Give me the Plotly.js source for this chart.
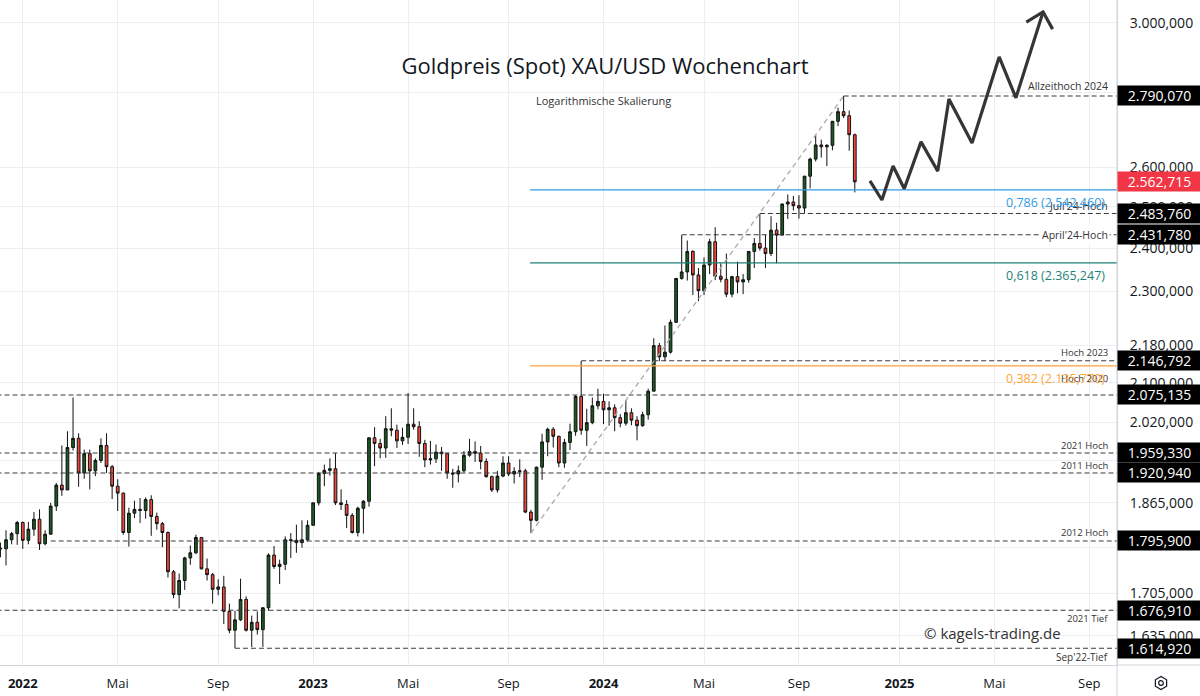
<!DOCTYPE html>
<html><head><meta charset="utf-8">
<script src="https://cdn.plot.ly/plotly-3.0.1.min.js"></script>
<style>html,body{margin:0;padding:0;background:#fff}#chart{width:1200px;height:696px}</style>
</head><body><div id="chart"></div>
<script>
// ---------- DATA ----------
const firstWeek = '2021-11-29';
const opens  = [1784,1783,1782,1798,1809,1829,1797,1817,1835,1791,1808,1859,1898,1889,1970,1988,1921,1958,1925,1945,1974,1933,1896,1883,1811,1846,1853,1851,1871,1840,1827,1811,1742,1703,1727,1766,1775,1802,1747,1737,1712,1716,1675,1644,1661,1695,1644,1657,1645,1681,1771,1751,1755,1798,1797,1793,1798,1824,1865,1920,1926,1929,1865,1862,1842,1811,1855,1868,1989,1978,1969,2007,2004,1983,1990,2016,2011,1978,1946,1948,1961,1958,1921,1919,1925,1955,1962,1959,1943,1914,1889,1915,1940,1919,1924,1925,1848,1833,1932,1981,2006,1992,1940,1980,2001,2072,2004,2019,2053,2062,2045,2049,2029,2018,2039,2024,2013,2035,2083,2179,2155,2165,2230,2329,2344,2392,2337,2301,2360,2415,2334,2327,2293,2333,2321,2326,2392,2411,2400,2387,2443,2431,2507,2512,2503,2497,2577,2621,2658,2653,2657,2721,2747,2736,2685];
const highs  = [1793,1793,1815,1812,1832,1831,1830,1848,1853,1815,1865,1902,1974,2002,2070,1998,1966,1966,1949,1988,1998,1936,1909,1884,1856,1869,1874,1875,1879,1847,1830,1813,1745,1739,1768,1788,1807,1803,1765,1740,1729,1735,1688,1676,1730,1700,1668,1675,1682,1774,1787,1763,1804,1810,1825,1833,1833,1865,1923,1937,1949,1959,1890,1870,1846,1858,1870,1989,2010,1987,2032,2048,2015,2009,2079,2048,2022,1985,1983,1976,1971,1959,1929,1935,1963,1987,1982,1973,1949,1916,1925,1953,1953,1932,1947,1929,1852,1933,1997,2009,2010,1993,1987,2017,2075,2146,2047,2070,2088,2078,2062,2056,2036,2065,2048,2032,2041,2088,2195,2185,2223,2236,2330,2431,2418,2395,2353,2378,2422,2450,2364,2387,2335,2368,2339,2392,2424,2483,2432,2477,2461,2508,2531,2527,2529,2578,2625,2685,2672,2660,2721,2758,2790.07,2750,2688];
const lows   = [1762,1767,1753,1790,1789,1782,1790,1805,1780,1788,1807,1850,1878,1889,1964,1895,1910,1890,1915,1940,1921,1872,1850,1807,1786,1837,1828,1836,1805,1816,1785,1732,1697,1680,1711,1754,1773,1746,1727,1688,1702,1654,1639,1615,1659,1642,1617,1637,1617,1676,1747,1721,1745,1766,1775,1784,1795,1824,1860,1896,1916,1861,1852,1819,1809,1804,1809,1858,1934,1949,1950,1992,1969,1975,1977,2005,1952,1932,1937,1940,1925,1910,1893,1903,1922,1952,1942,1928,1912,1885,1884,1913,1915,1901,1913,1846,1810,1831,1908,1953,1970,1932,1931,1965,1993,1995,1973,2016,2046,2016,2013,2002,2010,2013,2014,1984,2011,2025,2083,2146,2146,2162,2228,2326,2324,2291,2277,2291,2339,2325,2320,2286,2286,2295,2293,2319,2353,2394,2353,2381,2364,2431,2470,2491,2471,2485,2546,2615,2625,2603,2644,2708,2730,2643,2536];
const closes = [1783,1782,1798,1809,1829,1797,1817,1835,1791,1808,1859,1898,1889,1970,1988,1921,1958,1925,1945,1974,1933,1896,1883,1811,1846,1853,1851,1871,1840,1827,1811,1742,1703,1727,1766,1775,1802,1747,1737,1712,1716,1675,1644,1661,1695,1644,1657,1645,1681,1771,1751,1755,1798,1797,1793,1798,1824,1865,1920,1926,1929,1865,1862,1842,1811,1855,1868,1989,1978,1969,2007,2004,1983,1990,2016,2011,1978,1946,1948,1961,1958,1921,1919,1925,1955,1962,1959,1943,1914,1889,1915,1940,1919,1924,1925,1848,1833,1932,1981,2006,1992,1940,1980,2001,2072,2004,2019,2053,2062,2045,2049,2029,2018,2039,2024,2013,2035,2083,2179,2155,2165,2230,2329,2344,2392,2337,2301,2360,2415,2334,2327,2293,2333,2321,2326,2392,2411,2400,2387,2443,2431,2507,2512,2503,2497,2577,2621,2658,2653,2657,2721,2747,2736,2685,2562.715];

const currentPrice = 2562.715;

const levelValues = [2790.070, 2483.760, 2431.780, 2146.792, 2075.135, 1959.330, 1920.940, 1795.900, 1676.910, 1614.920];
const levelStarts = ['2024-10-28','2024-07-15','2024-04-08','2023-12-04','2021-11-01','2021-11-01','2021-11-01','2022-02-07','2021-11-01','2022-09-26'];
const levelLabels = ['Allzeithoch 2024', "Juli'24-Hoch", "April'24-Hoch", 'Hoch 2023', 'Hoch 2020', '2021 Hoch', '2011 Hoch', '2012 Hoch', '2021 Tief', "Sep'22-Tief"];

const fibRatios = [0.786, 0.618, 0.382];
const fibValues = [2542.460, 2365.247, 2135.770];
const fibStart = '2023-10-01';

const trendDates  = ['2023-10-02', '2024-10-28'];
const trendPrices = [1810, 2790.07];

const pathDates  = ['2024-11-30','2024-12-15','2024-12-29','2025-01-12','2025-02-02','2025-02-23','2025-03-09','2025-04-07','2025-05-11','2025-06-01','2025-07-05'];
const pathPrices = [2565, 2517, 2603, 2545, 2666, 2590, 2782, 2663, 2900, 2785, 3032];
const headDates  = ['2025-06-14','2025-07-05','2025-07-17'];
const headPrices = [3002, 3032, 2981];

// price-scale ticks; the ones fully hidden behind the level boxes carry no label
const yTicks      = [1635,1705,1785,1865,1945,2020,2100,2180,2300,2400,2500,2600,2800,3000];
const yTickHidden = [1785,1945,2800];
const xTickDates  = ['2022-01-03','2022-05-02','2022-09-05','2023-01-02','2023-05-01','2023-09-04','2024-01-01','2024-05-06','2024-09-02','2025-01-06','2025-05-05','2025-09-01'];
const xTickLabels = ['2022','Mai','Sep','2023','Mai','Sep','2024','Mai','Sep','2025','Mai','Sep'];

// ---------- HELPERS ----------
function weekDates(start, n){
  const out=[]; const d0=new Date(start+'T00:00:00Z');
  for(let i=0;i<n;i++){ const d=new Date(d0.getTime()+i*7*86400000); out.push(d.toISOString().slice(0,10)); }
  return out;
}
function fmt(v, dec){
  dec = dec===undefined?3:dec;
  const parts=v.toFixed(dec).split('.');
  const ip=parts[0].replace(/\B(?=(\d{3})+(?!\d))/g,'.');
  return parts.length>1? ip+','+parts[1] : ip;
}
const FONT='Open Sans';
const PLOT_W=1117, PLOT_B=665;
const px = x => x/PLOT_W;
const py = y => (PLOT_B-y)/PLOT_B;

const dates = weekDates(firstWeek, opens.length);
const farRight = '2025-12-31';

// ---------- TRACES ----------
const traces=[];
const fibColors=['#2f9be8','#1e7f76','#ffa53a'];
fibValues.forEach((v,i)=>{
  traces.push({type:'scatter',mode:'lines',x:[fibStart,farRight],y:[v,v],line:{color:fibColors[i],width:1.3},hoverinfo:'skip'});
});
levelValues.forEach((v,i)=>{
  traces.push({type:'scatter',mode:'lines',x:[levelStarts[i],farRight],y:[v,v],line:{color:'#3a3a3a',width:1.1,dash:'5px,3px'},hoverinfo:'skip'});
});
traces.push({type:'scatter',mode:'lines',x:trendDates,y:trendPrices,line:{color:'#a8a8a8',width:1.3,dash:'5px,4px'},hoverinfo:'skip'});
traces.push({type:'candlestick',x:dates,open:opens,high:highs,low:lows,close:closes,whiskerwidth:0,
  increasing:{line:{color:'#111',width:1},fillcolor:'#1c5a24'},
  decreasing:{line:{color:'#111',width:1},fillcolor:'#f4473a'},hoverinfo:'skip'});
traces.push({type:'scatter',mode:'lines',x:pathDates,y:pathPrices,line:{color:'#353535',width:3.2},hoverinfo:'skip'});
traces.push({type:'scatter',mode:'lines',x:headDates,y:headPrices,line:{color:'#353535',width:3.2},hoverinfo:'skip'});

// ---------- ANNOTATIONS ----------
const ann=[];
ann.push({xref:'paper',yref:'paper',x:px(603),y:py(101),text:'Logarithmische Skalierung',showarrow:false,font:{family:FONT,size:11,color:'#333'},xanchor:'center',yanchor:'middle'});
ann.push({xref:'paper',yref:'paper',x:px(992),y:py(633),text:'© kagels-trading.de',showarrow:false,font:{family:FONT,size:15,color:'#333'},xanchor:'center',yanchor:'middle'});

const lvlShift=[10,7,0,8,16,7,7,8,-8,-9];
const lvlSize=[10.5,10.5,10.5,9.5,9.5,9.5,9.5,9.5,9.5,10];
levelValues.forEach((v,i)=>{
  const a={xref:'paper',yref:'y',x:px(1110),y:Math.log10(v),yshift:lvlShift[i],text:levelLabels[i],showarrow:false,
    font:{family:FONT,size:lvlSize[i],color:'#333'},xanchor:'right',yanchor:'middle'};
  if(lvlShift[i]===0){a.bgcolor='#fff';a.borderpad=1;}
  ann.push(a);
});
fibValues.forEach((v,i)=>{
  ann.push({xref:'paper',yref:'y',x:px(1107),y:Math.log10(v),yshift:-13,text:fmt(fibRatios[i],3)+' ('+fmt(v)+')',showarrow:false,
    font:{family:FONT,size:12.5,color:fibColors[i]},xanchor:'right',yanchor:'middle'});
});
function boxLabel(v,bg){
  return {xref:'paper',x:1,xanchor:'left',yref:'y',y:Math.log10(v),yanchor:'middle',text:fmt(v),showarrow:false,
    bgcolor:bg,font:{family:FONT,color:'#fff',size:14},width:79,height:15,borderpad:2,align:'center'};
}
levelValues.forEach(v=>ann.push(boxLabel(v,'#000')));
ann.push(boxLabel(currentPrice,'#f23645'));

// ---------- SHAPES ----------
const gx=1161, gy=683, r=6.5;
let hex='';
for(let k=0;k<6;k++){
  const ang=Math.PI/2 + k*Math.PI/3;
  const X=px(gx + r*Math.cos(ang)), Y=py(gy - r*Math.sin(ang));
  hex += (k===0?'M ':' L ')+X+','+Y;
}
hex+=' Z';
const shapes=[
  {type:'line',xref:'paper',yref:'paper',x0:1,x1:px(1200),y0:0,y1:0,line:{color:'#d1d4dc',width:1}},
  {type:'line',xref:'paper',yref:'paper',x0:1,x1:1,y0:1,y1:py(696),line:{color:'#d1d4dc',width:1}},
  {type:'path',xref:'paper',yref:'paper',path:hex,line:{color:'#131722',width:1.2}},
  {type:'circle',xref:'paper',yref:'paper',x0:px(gx-2.3),x1:px(gx+2.3),y0:py(gy+2.3),y1:py(gy-2.3),line:{color:'#131722',width:1.2}}
];

// ---------- LAYOUT ----------
const layout={
  width:1200,height:696,
  margin:{l:0,r:83,t:0,b:31,pad:0},
  paper_bgcolor:'#fff',plot_bgcolor:'#fff',
  separators:',.',
  showlegend:false,hovermode:false,
  font:{family:FONT,color:'#131722'},
  title:{text:'Goldpreis (Spot) XAU/USD Wochenchart',x:605/1200,xref:'container',xanchor:'center',y:1-66/696,yref:'container',yanchor:'middle',
    font:{family:FONT,size:22,color:'#131722'}},
  xaxis:{type:'date',range:['2021-12-05 10:30','2025-10-05 17:00'],tickvals:xTickDates,
    ticktext:xTickLabels.map(t=>/^\d{4}$/.test(t)?'<b>'+t+'</b>':t),
    tickfont:{family:FONT,size:13,color:'#131722'},showgrid:true,gridcolor:'#eceef2',gridwidth:1,
    showline:true,linecolor:'#d1d4dc',linewidth:1,ticks:'',ticklabelstandoff:6,zeroline:false,
    rangeslider:{visible:false},automargin:false,fixedrange:true},
  yaxis:{type:'log',side:'right',range:[3.200955,3.486873],tickvals:yTicks,
    ticktext:yTicks.map(t=>yTickHidden.includes(t)?'':fmt(t)),
    tickfont:{family:FONT,size:14,color:'#131722'},showgrid:true,gridcolor:'#eceef2',gridwidth:1,
    showline:true,linecolor:'#d1d4dc',linewidth:1,ticks:'',ticklabelstandoff:9,zeroline:false,automargin:false,fixedrange:true},
  annotations:ann,
  shapes:shapes
};
Plotly.newPlot('chart',traces,layout,{displayModeBar:false,staticPlot:true});
</script>
</body></html>
